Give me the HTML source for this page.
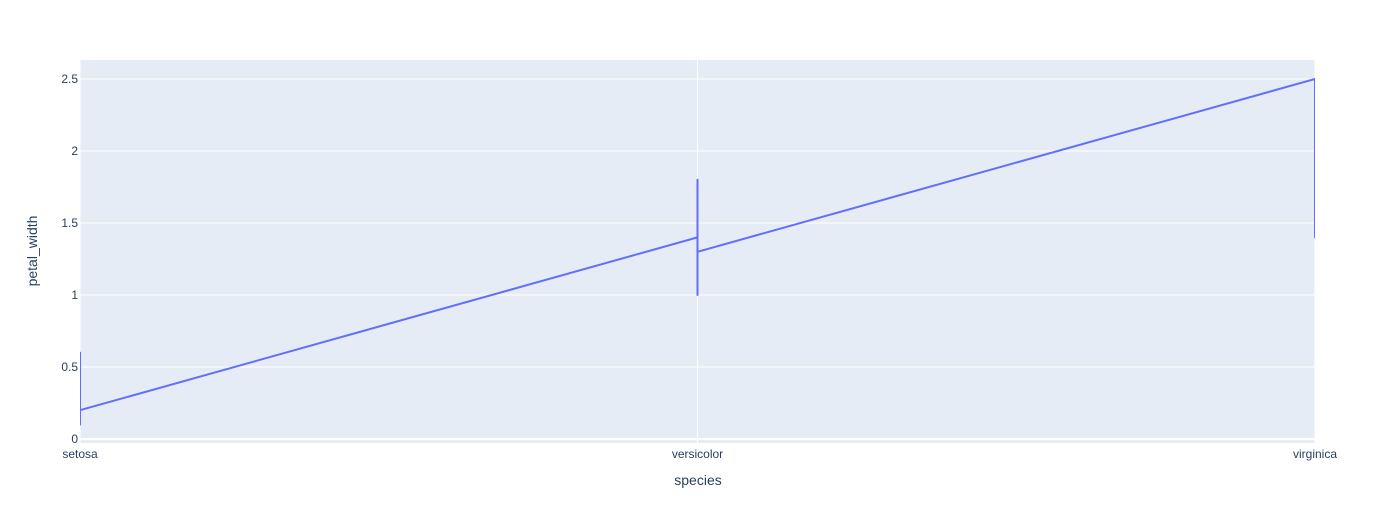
<!DOCTYPE html>
<html><head><meta charset="utf-8"><style>
html,body{margin:0;padding:0;background:#fff;}
svg{display:block;font-family:"Liberation Sans",Arial,sans-serif;}
</style></head><body>
<svg id="chart" width="1396" height="525" xmlns="http://www.w3.org/2000/svg">
<rect x="80" y="60" width="1235" height="383" fill="#e5ecf6"/>
<g id="grid"></g><g id="series"></g><g id="ticks"></g>
<text x="698" y="485" text-anchor="middle" font-size="14" fill="#2a3f5f">species</text>
<text transform="translate(37,251) rotate(-90)" text-anchor="middle" font-size="14" fill="#2a3f5f">petal_width</text>
</svg>
<script>
const categories = ["setosa","versicolor","virginica"];
const setosa = [0.2,0.2,0.2,0.2,0.2,0.4,0.3,0.2,0.2,0.1,0.2,0.2,0.1,0.1,0.2,0.4,0.4,0.3,0.3,0.3,0.2,0.4,0.2,0.5,0.2,0.2,0.4,0.2,0.2,0.2,0.2,0.4,0.1,0.2,0.2,0.2,0.2,0.1,0.2,0.2,0.3,0.3,0.2,0.6,0.4,0.3,0.2,0.2,0.2,0.2];
const versicolor = [1.4,1.5,1.5,1.3,1.5,1.3,1.6,1.0,1.3,1.4,1.0,1.5,1.0,1.4,1.3,1.4,1.5,1.0,1.5,1.1,1.8,1.3,1.5,1.2,1.3,1.4,1.4,1.7,1.5,1.0,1.1,1.0,1.2,1.6,1.5,1.6,1.5,1.3,1.3,1.3,1.2,1.4,1.2,1.0,1.3,1.2,1.3,1.3,1.1,1.3];
const virginica = [2.5,1.9,2.1,1.8,2.2,2.1,1.7,1.8,1.8,2.5,2.0,1.9,2.1,2.0,2.4,2.3,1.8,2.2,2.3,1.5,2.3,2.0,2.0,1.8,2.1,1.8,1.8,1.8,2.1,1.6,1.9,2.0,2.2,1.5,1.4,2.3,2.4,1.8,1.8,2.1,2.4,2.3,1.9,2.3,2.5,2.3,1.9,2.0,2.3,1.8];
const yTicks = [0,0.5,1,1.5,2,2.5];
const yTickLabels = ["0","0.5","1","1.5","2","2.5"];

const NS="http://www.w3.org/2000/svg";
const X0=80,X1=1315,Y0=443,Y1=60,yMin=-0.028,yMax=2.632;
function xs(i){return X0+(X1-X0)*i/(categories.length-1);}
function ys(v){return Y0-(v-yMin)/(yMax-yMin)*(Y0-Y1);}
function mk(tag,attrs,parent){const e=document.createElementNS(NS,tag);for(const k in attrs)e.setAttribute(k,attrs[k]);parent.appendChild(e);return e;}
const grid=document.getElementById('grid'),ticks=document.getElementById('ticks'),series=document.getElementById('series');
yTicks.forEach((v,i)=>{
  const l=mk('line',{x1:X0,x2:X1,y1:ys(v),y2:ys(v),stroke:'#fff','stroke-width':v===0?2:1},grid);
  
  
  const t=mk('text',{x:X0-2,y:ys(v)+4,'text-anchor':'end','font-size':12,fill:'#2a3f5f'},ticks);
  t.textContent=yTickLabels[i];
  
  
});
categories.forEach((c,i)=>{
  const l=mk('line',{x1:xs(i),x2:xs(i),y1:Y1,y2:Y0,stroke:'#fff','stroke-width':1},grid);
  
  
  const t=mk('text',{x:xs(i),y:458,'text-anchor':'middle','font-size':12,fill:'#2a3f5f'},ticks);
  t.textContent=c;
  
  
});
const groups=[setosa,versicolor,virginica];
let pts=[];
groups.forEach((g,i)=>g.forEach(v=>pts.push(xs(i).toFixed(1)+','+ys(v).toFixed(1))));
const cp=mk('clipPath',{id:'clip'},series);
mk('rect',{x:X0,y:Y1,width:X1-X0,height:Y0-Y1},cp);
const pl=mk('polyline',{points:pts.join(' '),fill:'none',stroke:'#636efa','stroke-width':2,'clip-path':'url(#clip)','stroke-linejoin':'round'},series);


</script>
</body></html>
